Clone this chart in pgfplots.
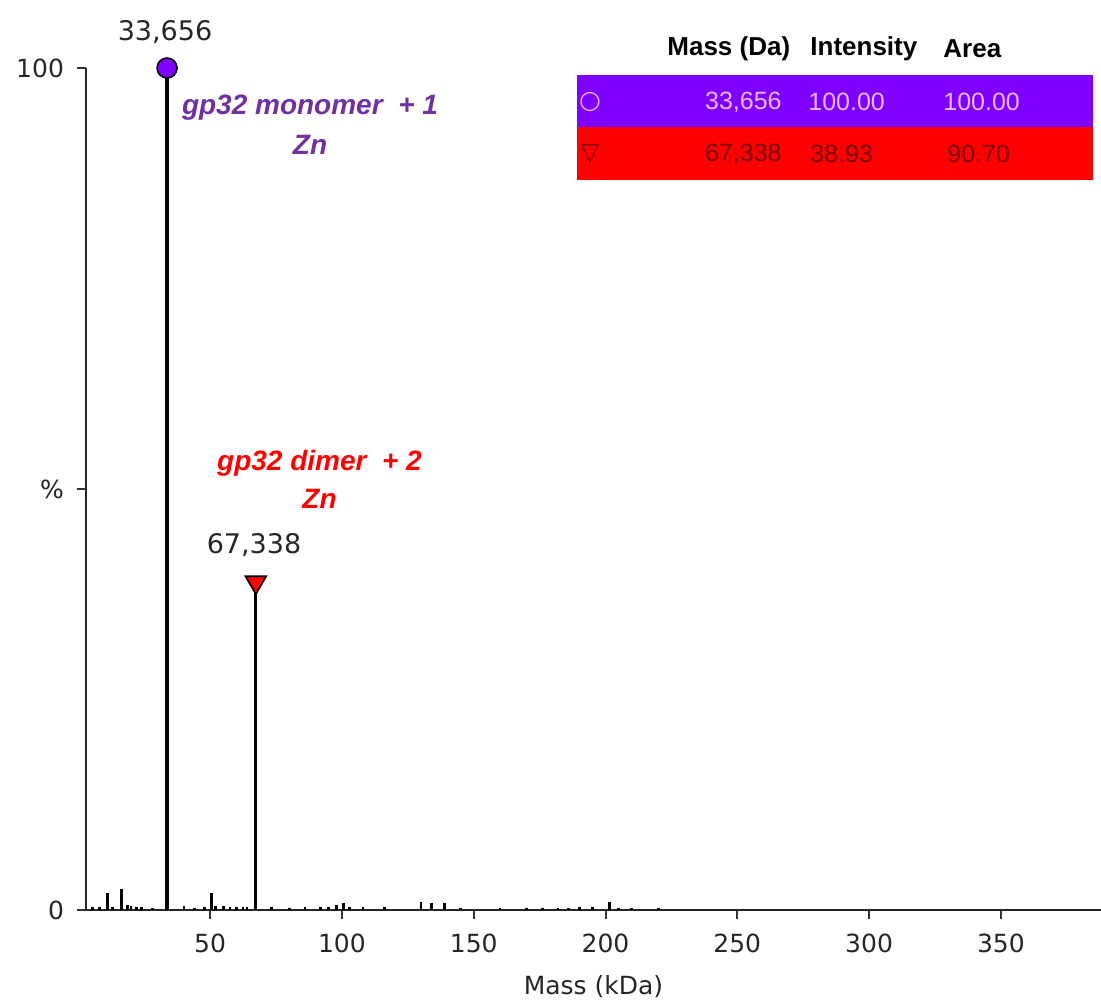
\documentclass[border=0pt]{standalone}
\usepackage{fontspec}
\setmainfont{DejaVu Sans}
\newfontfamily\arialfont{Liberation Sans}
\usepackage{pgfplots}
\usepackage{pgfplotstable}
\pgfplotsset{compat=1.18}
\definecolor{pmark}{HTML}{7F00FF}
\definecolor{ptext}{HTML}{7030A0}
\definecolor{prow}{HTML}{8000FF}
\definecolor{prowtext}{HTML}{E8B8FF}
\definecolor{rrowtext}{HTML}{7A0000}
\definecolor{ticktext}{HTML}{262626}

\pgfplotstableread{
mass intensity
5.5 0.3
8 0.4
11.1 2.0
13 0.4
16.4 2.5
18.5 0.6
20 0.5
22 0.4
24 0.3
28 0.2
40.1 0.5
44 0.2
48 0.4
50.4 2.0
52 0.5
55 0.5
57.5 0.4
60 0.4
62.5 0.3
64 0.3
73.4 0.3
80 0.2
86 0.3
92 0.3
95 0.4
98 0.6
100.5 0.8
103 0.4
108 0.3
116 0.3
130 1.0
134 0.8
139 0.8
145 0.2
160 0.2
170 0.2
176 0.2
182 0.2
186 0.2
190 0.3
195 0.3
201.5 0.9
205 0.2
210 0.2
220 0.2
}\noise

\pgfplotstableread{
mass intensity
33.656 100
}\monomer

\pgfplotstableread{
mass intensity
67.338 38.93
}\dimer

\begin{document}
\begin{tikzpicture}
\begin{axis}[
  at={(0,0)}, anchor=south west,
  scale only axis, width=507.5pt, height=421pt,
  xmin=2.9, xmax=388, ymin=0, ymax=100,
  axis x line*=bottom, axis y line*=left,
  axis line style={line width=1.4pt, black!85},
  xtick={50,100,...,350}, ytick={0,50,100}, yticklabels={0,\%,100},
  tick align=outside, major tick length=4.5pt,
  tick style={line width=1pt, black!80},
  minor tick num=0,
  tick label style={font=\fontsize{12.5}{15}\selectfont, text=ticktext},
  xticklabel style={yshift=-4pt},
  yticklabel style={xshift=-3pt},
  /pgf/number format/assume math mode=true,
  xlabel={Mass (kDa)},
  xlabel style={font=\fontsize{12.5}{15}\selectfont, text=ticktext, yshift=-4.5pt},
  clip=false,
]
\addplot[ycomb, black, line width=1.4pt] table[x=mass, y=intensity] {\noise};
\addplot[ycomb, black, line width=1.6pt, mark=*, mark size=5pt, mark options={fill=pmark, draw=black, line width=0.8pt}] table[x=mass, y=intensity] {\monomer};
\addplot[ycomb, black, line width=1.6pt, mark=triangle*, mark size=6pt, mark options={fill=red, draw=black, line width=0.8pt, rotate=180}] table[x=mass, y=intensity] {\dimer};
\end{axis}

% peak labels
\node[font=\fontsize{13.5}{16}\selectfont, text=ticktext] at (39.5pt,439pt) {33,656};
\node[font=\fontsize{13.5}{16}\selectfont, text=ticktext] at (84pt,182.5pt) {67,338};

% annotations
\node[font=\arialfont\bfseries\itshape\fontsize{14}{20}\selectfont, text=ptext, align=center] at (112pt,392.5pt) {gp32 monomer\ \ + 1\\Zn};
\node[font=\arialfont\bfseries\itshape\fontsize{14}{19}\selectfont, text=red, align=center] at (116.75pt,215.5pt) {gp32 dimer\ \ + 2\\Zn};

% table
\fill[prow] (245.5pt,391.5pt) rectangle (503.5pt,417.5pt);
\fill[red] (245.5pt,365pt) rectangle (503.5pt,391.5pt);
\begin{scope}[every node/.style={font=\arialfont\bfseries\fontsize{13}{15}\selectfont, inner sep=0pt}]
\node[anchor=west] at (290.5pt,430.5pt) {Mass (Da)};
\node[anchor=west] at (362pt,430.5pt) {Intensity};
\node[anchor=west] at (428.5pt,430.5pt) {Area};
\end{scope}
\begin{scope}[every node/.style={font=\arialfont\fontsize{12.5}{15}\selectfont, inner sep=0pt}]
\node[text=prowtext] at (252pt,404pt) {\fontspec{DejaVu Sans}○};
\node[anchor=east, text=prowtext] at (348pt,404pt) {33,656};
\node[anchor=west, text=prowtext] at (361pt,404pt) {100.00};
\node[anchor=west, text=prowtext] at (428.5pt,404pt) {100.00};
\node[text=rrowtext] at (252pt,378pt) {\fontspec{DejaVu Sans}▽};
\node[anchor=east, text=rrowtext] at (348pt,378pt) {67,338};
\node[anchor=west, text=rrowtext] at (362pt,378pt) {38.93};
\node[anchor=west, text=rrowtext] at (430.5pt,378pt) {90.70};
\end{scope}

\pgfresetboundingbox
\path[use as bounding box] (-43pt,-46.5pt) rectangle (507.5pt,455pt);
\end{tikzpicture}
\end{document}
